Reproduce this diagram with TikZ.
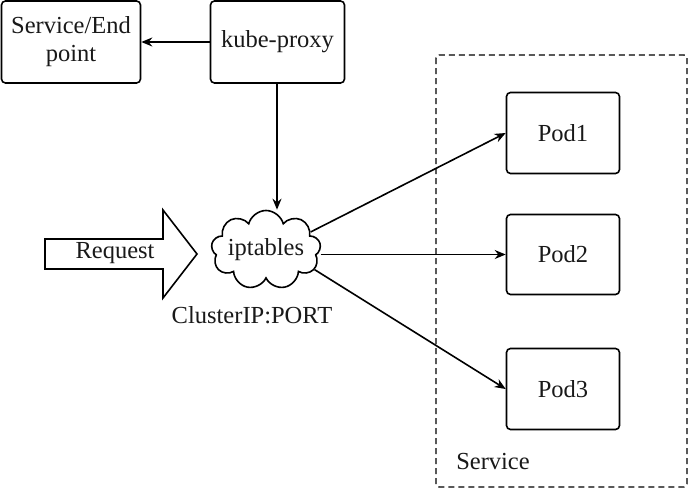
\documentclass[tikz,border=0pt]{standalone}
\usepackage{fontspec}
\setmainfont{Liberation Serif}
\usetikzlibrary{shapes.symbols,arrows.meta}
\begin{document}
\begin{tikzpicture}[x=1pt,y=-1pt,
  every node/.style={font=\fontsize{24.5}{28}\selectfont, text=black!90},
  box/.style={draw, rounded corners=4pt, line width=1.6pt, inner sep=0pt, align=center},
  conn/.style={line width=1.6pt, -{Stealth[length=11pt,width=9pt]}},
  lbl/.style={inner sep=0pt}]
\useasboundingbox (0,0) rectangle (689,488);
\draw[line width=1.4pt, rounded corners=3pt, dash pattern=on 6pt off 4pt] (436,55) rectangle (687,487);
\node[box, minimum width=139pt, minimum height=82pt] (se) at (71,42) {Service/End\\point};
\node[box, minimum width=134pt, minimum height=82pt] (kp) at (277.5,42) {kube-proxy};
\node[box, minimum width=113pt, minimum height=81pt] (pod1) at (563,133) {Pod1};
\node[box, minimum width=113pt, minimum height=80pt] (pod2) at (563,254.5) {Pod2};
\node[box, minimum width=113pt, minimum height=81pt] (pod3) at (563,389) {Pod3};
\node[cloud, draw, line width=1.6pt, cloud puffs=9, cloud ignores aspect, minimum width=101pt, minimum height=79pt, inner sep=0pt] (ipt) at (266,250) {iptables};
\node[lbl] (cip) at (252,315) {ClusterIP:PORT};
\node[lbl] (svc) at (493,462) {Service};
\draw[line width=1.6pt, line join=miter] (45,239) -- (163,239) -- (163,210) -- (197,254) -- (163,298) -- (163,269) -- (45,269) -- cycle;
\node[lbl] (req) at (115,253) {Request};
\draw[conn] (kp.west) -- (se.east);
\draw[conn] ([xshift=-0.5pt]kp.south) -- ([xshift=-0.5pt]kp.south |- ipt.north);
\draw[conn] (ipt.22) -- (pod1.west);
\draw[conn] (ipt.east |- pod2.west) -- (pod2.west);
\draw[conn] (ipt.-22) -- (pod3.west);
\end{tikzpicture}
\end{document}
